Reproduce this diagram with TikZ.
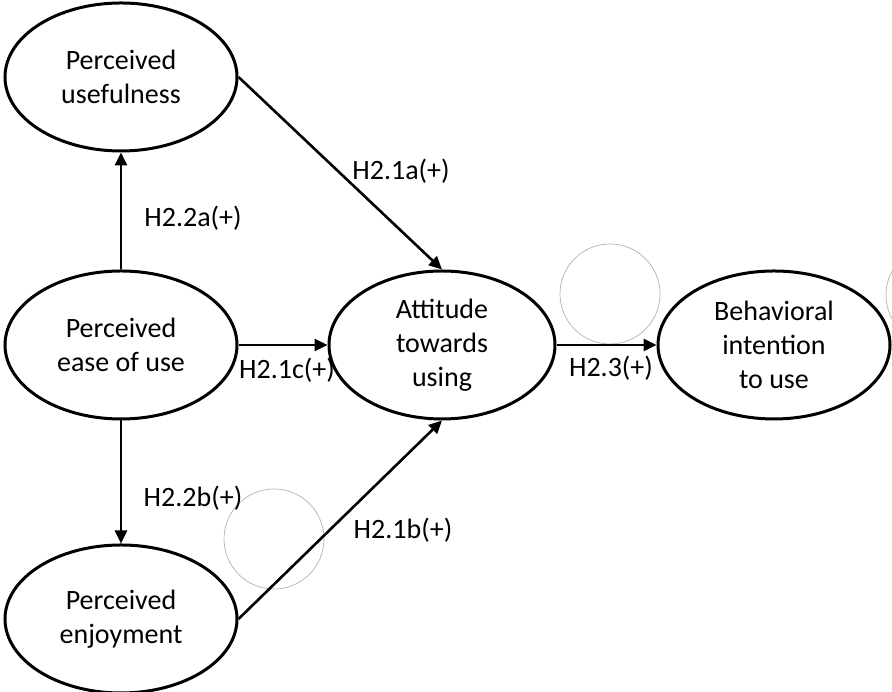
\documentclass[tikz,border=0pt]{standalone}
\usepackage{fontspec}
\setmainfont{Carlito}
\usetikzlibrary{arrows.meta,shapes.geometric}
\begin{document}
\begin{tikzpicture}[x=1pt,y=1pt,
  construct/.style={ellipse,draw,line width=3pt,minimum width=232pt,minimum height=148pt,inner sep=0pt,align=center,font=\fontsize{28}{34}\selectfont},
  hyp/.style={font=\fontsize{28}{34}\selectfont,inner sep=0pt},
  link/.style={line width=2.6pt,-{Triangle[length=13pt,width=12pt]}},
  ghost/.style={draw=black!30,line width=0.7pt}]
\useasboundingbox (0,0) rectangle (892,692);
\begin{scope}
\clip (0,0) rectangle (892,692);
\draw[ghost] (610,398) circle (50);
\draw[ghost] (274,153) circle (50);
\draw[ghost] (936,397) circle (50);
\node[construct] (PU) at (121,615) {Perceived\\usefulness};
\node[construct] (PEU) at (121,347) {Perceived\\ease of use};
\node[construct] (PE) at (121,73) {Perceived\\enjoyment};
\node[construct,minimum width=226pt] (ATT) at (442,347) {Attitude\\towards\\using};
\node[construct] (BI) at (774,347) {Behavioral\\intention\\to use};
\coordinate (out) at (905,347);
\draw[link] (PEU) -- (PU);
\draw[link] (PEU) -- (PE);
\draw[link] (PEU) -- (ATT);
\draw[link] (PU.east) -- (ATT.north);
\draw[link] (PE.east) -- (ATT.south);
\draw[link] (ATT) -- (BI);
\draw[line width=2.6pt] (BI.east) -- (out);
\node[hyp] (h21a) at (401,521) {H2.1a(+)};
\node[hyp] (h22a) at (193,474) {H2.2a(+)};
\node[hyp] (h21c) at (287,322) {H2.1c(+)};
\node[hyp] (h23) at (611,324) {H2.3(+)};
\node[hyp] (h22b) at (193,194) {H2.2b(+)};
\node[hyp] (h21b) at (403,162) {H2.1b(+)};
\end{scope}
\end{tikzpicture}
\end{document}
